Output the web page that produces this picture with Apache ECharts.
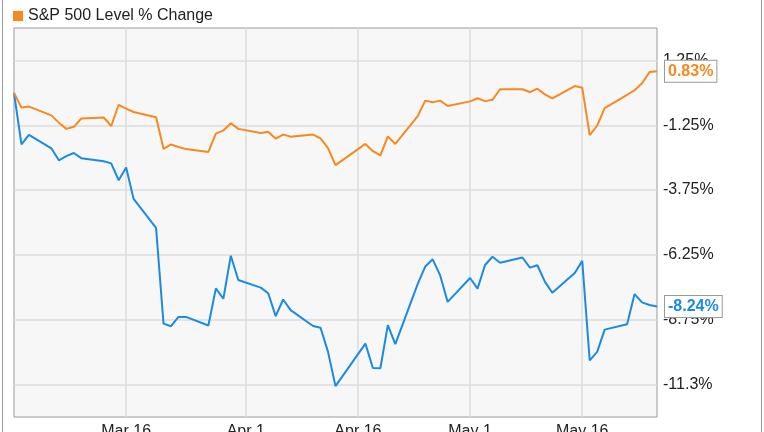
<!DOCTYPE html>
<html>
<head>
<meta charset="utf-8">
<script src="https://cdn.jsdelivr.net/npm/echarts@6/dist/echarts.min.js"></script>
<style>
html,body{margin:0;padding:0;background:#fff;}
#wrap{position:relative;width:764px;height:432px;overflow:hidden;}
#chart{width:764px;height:432px;}
.edge{position:absolute;top:0;bottom:0;width:1px;background:#999;}
</style>
</head>
<body>
<div id="wrap">
<div id="chart"></div>
<div class="edge" style="left:2px"></div>
<div class="edge" style="left:761px"></div>
</div>
<script>
// ---- data ----
const dates = [
  '2017-03-01','2017-03-02','2017-03-03','2017-03-06','2017-03-07','2017-03-08','2017-03-09','2017-03-10',
  '2017-03-13','2017-03-14','2017-03-15','2017-03-16','2017-03-17','2017-03-20','2017-03-21','2017-03-22',
  '2017-03-23','2017-03-24','2017-03-27','2017-03-28','2017-03-29','2017-03-30','2017-03-31',
  '2017-04-03','2017-04-04','2017-04-05','2017-04-06','2017-04-07','2017-04-10','2017-04-11','2017-04-12',
  '2017-04-13','2017-04-17','2017-04-18','2017-04-19','2017-04-20','2017-04-21','2017-04-24','2017-04-25',
  '2017-04-26','2017-04-27','2017-04-28',
  '2017-05-01','2017-05-02','2017-05-03','2017-05-04','2017-05-05','2017-05-08','2017-05-09','2017-05-10',
  '2017-05-11','2017-05-12','2017-05-15','2017-05-16','2017-05-17','2017-05-18','2017-05-19','2017-05-22',
  '2017-05-23','2017-05-24','2017-05-25','2017-05-26'
];
const spxChange = [
  0, -0.57, -0.53, -0.87, -1.15, -1.39, -1.31, -0.99,
  -0.95, -1.28, -0.46, -0.61, -0.74, -0.94, -2.16, -1.99,
  -2.09, -2.17, -2.28, -1.57, -1.45, -1.17, -1.39,
  -1.55, -1.50, -1.77, -1.61, -1.69, -1.61, -1.76, -2.13,
  -2.79, -1.97, -2.25, -2.41, -1.68, -1.97, -0.90, -0.30,
  -0.36, -0.30, -0.51,
  -0.33, -0.21, -0.32, -0.27, 0.14, 0.14, 0.03, 0.16,
  -0.06, -0.21, 0.26, 0.20, -1.63, -1.26, -0.59, -0.08,
  0.10, 0.37, 0.80, 0.83
];
const stockChange = [
  0, -1.99, -1.62, -2.14, -2.60, -2.44, -2.32, -2.52,
  -2.64, -2.72, -3.37, -2.88, -4.09, -5.21, -8.90, -9.00,
  -8.64, -8.64, -8.97, -7.54, -7.94, -6.28, -7.22,
  -7.51, -7.73, -8.61, -7.97, -8.38, -8.99, -9.06, -9.99,
  -11.31, -9.67, -10.61, -10.62, -8.96, -9.69, -7.37, -6.70,
  -6.42, -7.04, -8.06,
  -7.14, -7.55, -6.64, -6.32, -6.55, -6.35, -6.74, -6.65,
  -7.28, -7.71, -6.95, -6.48, -10.32, -9.99, -9.13, -8.92,
  -7.76, -8.08, -8.18, -8.24
];
const xTickDates = ['2017-03-16','2017-04-01','2017-04-16','2017-05-01','2017-05-16'];
const xTickLabels = ['Mar 16','Apr 1','Apr 16','May 1','May 16'];
const yTickValues = [1.25, -1.25, -3.75, -6.25, -8.75, -11.25];
const yTickLabels = ['1.25%','-1.25%','-3.75%','-6.25%','-8.75%','-11.3%'];
const xRange = ['2017-03-01','2017-05-26'];
const yRange = [-12.5, 2.5];
const legendName = 'S&P 500 Level % Change';

// ---- build ----
function ts(s){ const p = s.split('-').map(Number); return Date.UTC(p[0], p[1]-1, p[2]); }
const xTickTs = xTickDates.map(ts);
const spxData = dates.map((d,i)=>[ts(d), spxChange[i]]);
const stockData = dates.map((d,i)=>[ts(d), stockChange[i]]);

const ORANGE = '#f7891f';
const BLUE = '#1b8be2';
const FONT = 'Liberation Sans, Arial, sans-serif';

function nearestLabel(vals, labels, v){
  let best = 0;
  vals.forEach((t,i)=>{ if (Math.abs(t-v) < Math.abs(vals[best]-v)) best = i; });
  return labels[best];
}

const chart = echarts.init(document.getElementById('chart'));
chart.setOption({
  animation: false,
  textStyle: {fontFamily: FONT},
  legend: {
    left: 8, top: 3,
    itemWidth: 10, itemHeight: 10, icon: 'rect',
    data: [{name: legendName}],
    textStyle: {fontSize: 16, color: '#222', fontFamily: FONT},
    selectedMode: false
  },
  grid: {
    left: 14, right: 107, top: 28, bottom: 15,
    outerBoundsMode: 'none', containLabel: false,
    show: true, backgroundColor: '#f7f7f7', borderColor: '#999', borderWidth: 1
  },
  xAxis: {
    type: 'value',
    min: ts(xRange[0]), max: ts(xRange[1]),
    axisLine: {show: false},
    axisTick: {show: false, customValues: xTickTs},
    splitLine: {show: true, lineStyle: {color: '#dcdcdc', width: 1.5}},
    axisLabel: {
      customValues: xTickTs,
      margin: 7,
      fontSize: 16, color: '#222', fontFamily: FONT,
      formatter: function(v){ return nearestLabel(xTickTs, xTickLabels, v); }
    }
  },
  yAxis: {
    type: 'value', position: 'right',
    min: yRange[0], max: yRange[1],
    axisLine: {show: false},
    axisTick: {show: false, customValues: yTickValues},
    splitLine: {show: true, lineStyle: {color: '#dcdcdc', width: 1.5}},
    axisLabel: {
      customValues: yTickValues,
      margin: 6,
      fontSize: 16, color: '#222', fontFamily: FONT,
      formatter: function(v){ return nearestLabel(yTickValues, yTickLabels, v); }
    }
  },
  series: [
    {
      name: 'Stock', type: 'line', data: stockData, showSymbol: false, symbol: 'none',
      lineStyle: {color: BLUE, width: 2}, itemStyle: {color: BLUE}, z: 3,
      endLabel: {
        show: true, distance: 8,
        formatter: function(p){ return p.value[1].toFixed(2) + '%'; },
        color: BLUE, fontWeight: 'bold', fontSize: 16, fontFamily: FONT,
        backgroundColor: '#fff', borderColor: '#999', borderWidth: 1,
        padding: [3, 3, 2, 3]
      }
    },
    {
      name: legendName, type: 'line', data: spxData, showSymbol: false, symbol: 'none',
      lineStyle: {color: ORANGE, width: 2}, itemStyle: {color: ORANGE}, z: 4,
      endLabel: {
        show: true, distance: 8,
        formatter: function(p){ return p.value[1].toFixed(2) + '%'; },
        color: ORANGE, fontWeight: 'bold', fontSize: 16, fontFamily: FONT,
        backgroundColor: '#fff', borderColor: '#999', borderWidth: 1,
        padding: [3, 3, 2, 3]
      }
    }
  ]
});
</script>
</body>
</html>
